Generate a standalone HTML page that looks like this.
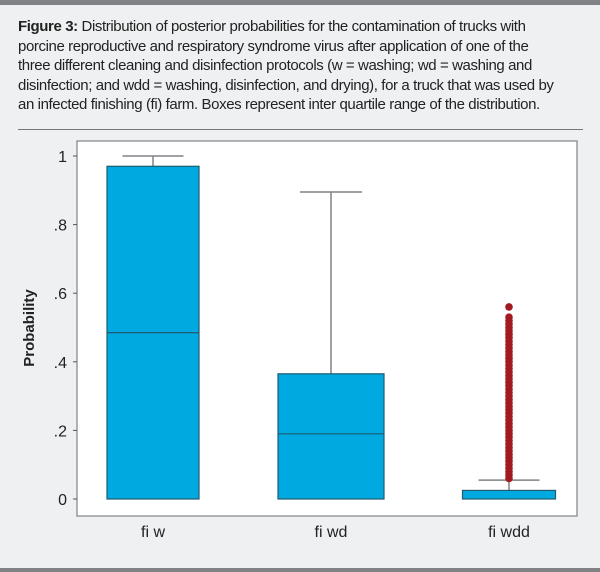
<!DOCTYPE html>
<html><head><meta charset="utf-8"><style>
html,body{margin:0;padding:0;}
body{width:600px;height:572px;background:#eff0f1;position:relative;overflow:hidden;font-family:"Liberation Sans",sans-serif;}
#topbar{position:absolute;left:0;top:0;width:600px;height:5px;background:#808285;}
#caption{position:absolute;left:18px;top:17px;width:575px;font-size:15px;line-height:19.5px;color:#222;letter-spacing:-0.4px;white-space:nowrap;}
#sep{position:absolute;left:18px;top:129px;width:565px;height:1px;background:#777;}
#botbar{position:absolute;left:0;top:568px;width:600px;height:4px;background:#808285;}
svg{position:absolute;left:0;top:0;}
</style></head><body>
<div id="topbar"></div>
<div id="caption"><b>Figure 3:</b> Distribution of posterior probabilities for the contamination of trucks with<br>porcine reproductive and respiratory syndrome virus after application of one of the<br>three different cleaning and disinfection protocols (w = washing; wd = washing and<br>disinfection; and wdd = washing, disinfection, and drying), for a truck that was used by<br>an infected finishing (fi) farm. Boxes represent inter quartile range of the distribution.</div>
<div id="sep"></div>
<div id="botbar"></div>
<svg id="chart" width="600" height="572"></svg>
<script>
const categories=["fi w","fi wd","fi wdd"];
const q1=[0,0,0];
const median=[0.485,0.19,0.005];
const q3=[0.97,0.365,0.025];
const whiskerHigh=[1.0,0.895,0.055];
const outliers=[[],[],[0.06,0.07,0.08,0.09,0.10,0.11,0.12,0.13,0.14,0.15,0.16,0.17,0.18,0.19,0.20,0.21,0.22,0.23,0.24,0.25,0.26,0.27,0.28,0.29,0.30,0.31,0.32,0.33,0.34,0.35,0.36,0.37,0.38,0.39,0.40,0.41,0.42,0.43,0.44,0.45,0.46,0.47,0.48,0.49,0.50,0.51,0.52,0.53,0.56]];
const yTicks=[0,0.2,0.4,0.6,0.8,1];
const yTickLabels=["0",".2",".4",".6",".8","1"];
const NS="http://www.w3.org/2000/svg";
const svg=document.getElementById('chart');
const plot={l:77,r:577,t:141,b:516};
function y(v){return 499-v*343;}
function x(i){return 153+i*178;}
function mk(tag,attrs,parent){const e=document.createElementNS(NS,tag);for(const k in attrs)e.setAttribute(k,attrs[k]);(parent||svg).appendChild(e);return e;}
const frame=mk('rect',{x:plot.l,y:plot.t,width:plot.r-plot.l,height:plot.b-plot.t,fill:'#fff',stroke:'#808285','stroke-width':1.2});


yTicks.forEach((t,i)=>{
  const tk=mk('line',{x1:plot.l-4,x2:plot.l,y1:y(t),y2:y(t),stroke:'#555'});
  
  
  const tl=mk('text',{x:plot.l-10,y:y(t)+6,'text-anchor':'end','font-size':16,fill:'#222'});
  tl.textContent=yTickLabels[i];
  
  
});
const yt=mk('text',{x:34,y:328,'text-anchor':'middle','font-size':15,'font-weight':'bold',fill:'#222',transform:'rotate(-90 34 328)'});
yt.textContent='Probability';


categories.forEach((c,i)=>{
  const cx=x(i);
  const bw=[92,106,93][i];
  const cw=[61,62,61][i];
  const g=mk('g',{});
  
  
  mk('line',{x1:cx,x2:cx,y1:y(whiskerHigh[i]),y2:y(q3[i]),stroke:'#808285','stroke-width':1.5},g);
  mk('line',{x1:cx-cw/2,x2:cx+cw/2,y1:y(whiskerHigh[i]),y2:y(whiskerHigh[i]),stroke:'#808285','stroke-width':1.5},g);
  mk('rect',{x:cx-bw/2,y:y(q3[i]),width:bw,height:y(q1[i])-y(q3[i]),fill:'#00a9df',stroke:'#1e5b70','stroke-width':1.2},g);
  if(median[i]>0.01) mk('line',{x1:cx-bw/2,x2:cx+bw/2,y1:y(median[i]),y2:y(median[i]),stroke:'#1e5b70','stroke-width':1.2},g);
  outliers[i].forEach(v=>{
    const d=mk('circle',{cx:cx,cy:y(v),r:3.8,fill:'#a01a1f'});
    
    
  });
  const lb=mk('text',{x:cx,y:537,'text-anchor':'middle','font-size':16,fill:'#222'});
  lb.textContent=c;
  
  
});
</script>
</body></html>
